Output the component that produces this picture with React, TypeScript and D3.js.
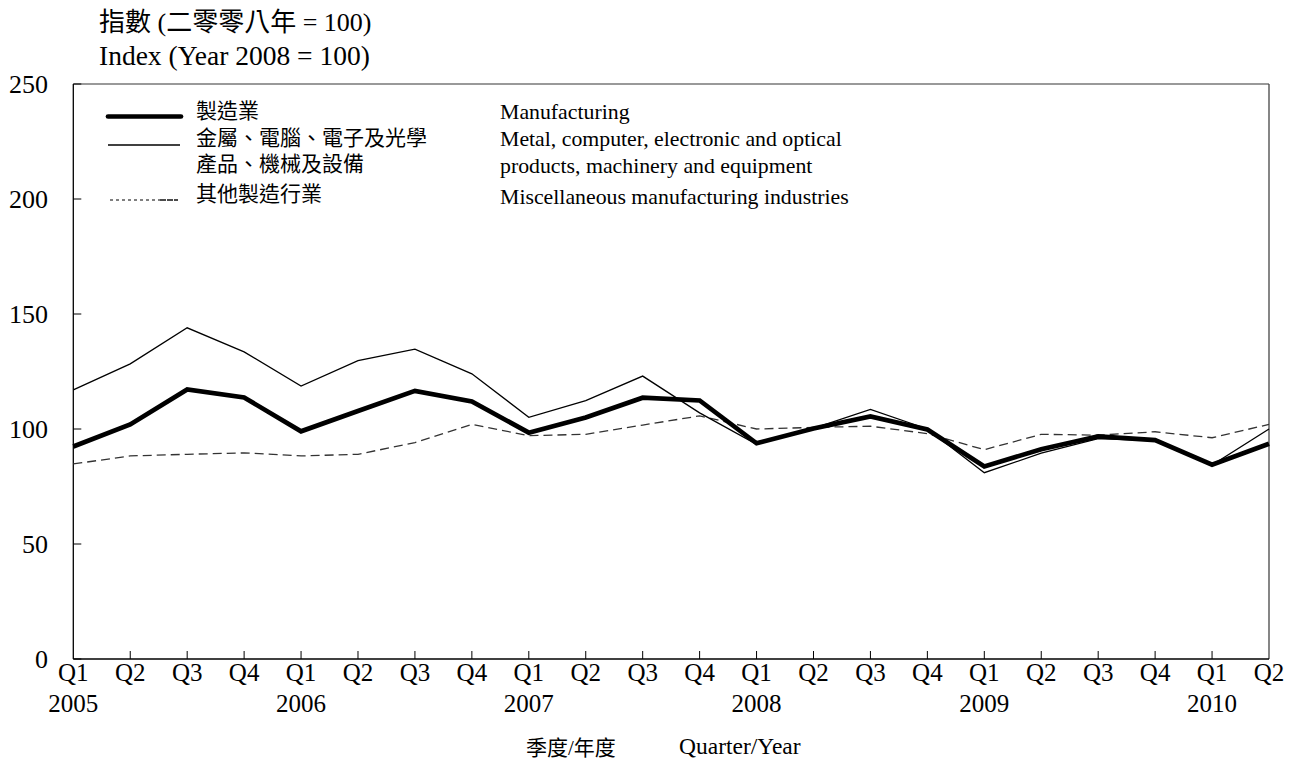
import React from "react";
import * as d3 from "d3";

const quarters = ["Q1","Q2","Q3","Q4","Q1","Q2","Q3","Q4","Q1","Q2","Q3","Q4","Q1","Q2","Q3","Q4","Q1","Q2","Q3","Q4","Q1","Q2"];
const yearLabels = ["2005","","","","2006","","","","2007","","","","2008","","","","2009","","","","2010",""];
const manufacturing = [92.4,102,117.2,113.7,99,107.8,116.6,112,98.4,105,113.6,112.4,93.8,100.2,105.5,99.8,83.7,91.2,96.8,95.2,84.5,93.6];
const metal = [117,128.3,144,133.5,118.7,129.7,134.7,124,105.1,112.3,123,107,93.3,100.3,108.5,100,81,89.5,95.8,95,84.3,100];
const misc = [84.8,88.3,89,89.6,88.3,89,94.1,102,97.1,97.7,101.7,105.7,100,100.7,101.2,98,91,97.7,97.3,98.8,96.2,102];
const yTicks = [0,50,100,150,200,250];

const legendCn = ["製造業","金屬、電腦、電子及光學","產品、機械及設備","其他製造行業"];
const legendEn = ["Manufacturing","Metal, computer, electronic and optical","products, machinery and equipment","Miscellaneous manufacturing industries"];

const FONT = "'Liberation Serif', 'Times New Roman', 'Noto Sans CJK TC', serif";

export default function App() {
  const W = 1293, H = 781;
  const left = 73.3, right = 1269, top = 84, bottom = 659;
  const x = d3.scaleLinear().domain([0, quarters.length - 1]).range([left, right]);
  const y = d3.scaleLinear().domain([0, 250]).range([bottom, top]);
  const line = d3.line<number>().x((_, i) => x(i)).y(d => y(d));

  return (
    <svg width={W} height={H} style={{ position: "absolute", left: 0, top: 0, background: "#fff" }} fontFamily={FONT}>
      {/* titles */}
      <text x={99} y={31} fontSize={26}>指數 (二零零八年 = 100)</text>
      <text x={99} y={65} fontSize={27.5}>Index (Year 2008 = 100)</text>

      {/* frame */}
      <line x1={left} x2={right} y1={top} y2={top} stroke="#777" strokeWidth={1.3} />
      <line x1={right} x2={right} y1={top} y2={bottom} stroke="#444" strokeWidth={1.3} />
      <line x1={left} x2={left} y1={top} y2={bottom} stroke="#000" strokeWidth={1.3} />
      <line x1={left} x2={right} y1={bottom} y2={bottom} stroke="#000" strokeWidth={1.3} />

      {/* y ticks */}
      {yTicks.map(t => (
        <g key={t}>
          <line x1={left} x2={left + 8} y1={y(t)} y2={y(t)} stroke="#000" strokeWidth={1} />
          <text x={48} y={y(t)} dy="0.35em" textAnchor="end" fontSize={26}>{t}</text>
        </g>
      ))}

      {/* x ticks */}
      {quarters.map((q, i) => (
        <g key={i}>
          {i > 0 && i < quarters.length - 1 && (
            <line x1={x(i)} x2={x(i)} y1={bottom} y2={bottom - 8} stroke="#000" strokeWidth={1} />
          )}
          <text x={x(i)} y={681} textAnchor="middle" fontSize={25}>{q}</text>
          {yearLabels[i] && (
            <text x={x(i)} y={712} textAnchor="middle" fontSize={25}>{yearLabels[i]}</text>
          )}
        </g>
      ))}

      <text x={526} y={755} fontSize={21}>季度/年度</text>
      <text x={679} y={754} fontSize={23.5}>Quarter/Year</text>

      {/* legend */}
      <line x1={108} x2={181} y1={116.5} y2={116.5} stroke="#000" strokeWidth={4.7} strokeLinecap="round" />
      <line x1={108} x2={180} y1={145} y2={145} stroke="#000" strokeWidth={1.3} />
      <line x1={110} x2={160} y1={200} y2={200} stroke="#555" strokeWidth={1.3} strokeDasharray="3,3" />
      <line x1={160} x2={178} y1={200} y2={200} stroke="#111" strokeWidth={1.6} strokeDasharray="6,1" />
      {legendCn.map((t, i) => (
        <text key={i} x={196} y={[118, 145, 171, 201][i]} fontSize={21}>{t}</text>
      ))}
      {legendEn.map((t, i) => (
        <text key={i} x={500} y={[119, 146, 173, 204][i]} fontSize={21.8}>{t}</text>
      ))}

      {/* series */}
      <path d={line(misc) || ""} fill="none" stroke="#333" strokeWidth={1.3} strokeDasharray="9,5" />
      <path d={line(metal) || ""} fill="none" stroke="#000" strokeWidth={1.3} />
      <path d={line(manufacturing) || ""} fill="none" stroke="#000" strokeWidth={4.7} strokeLinejoin="miter" />
    </svg>
  );
}
